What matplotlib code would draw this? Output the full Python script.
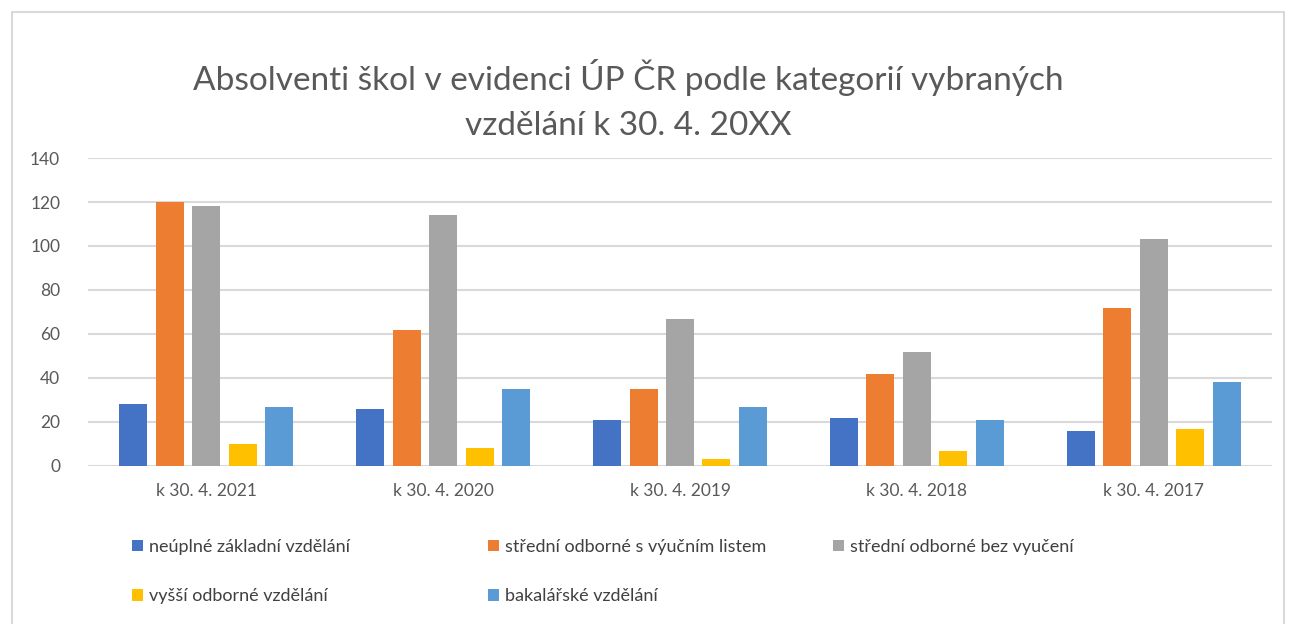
import matplotlib.pyplot as plt
import numpy as np
from matplotlib.patches import Rectangle

plt.rcParams['font.family'] = ['Lato', 'DejaVu Sans']

categories = ['k 30. 4. 2021', 'k 30. 4. 2020', 'k 30. 4. 2019', 'k 30. 4. 2018', 'k 30. 4. 2017']
series_names = ['neúplné základní vzdělání', 'střední odborné s výučním listem',
                'střední odborné bez vyučení', 'vyšší odborné vzdělání', 'bakalářské vzdělání']
neuplne = [28, 26, 21, 22, 16]
stredni_s_listem = [120, 62, 35, 42, 72]
stredni_bez = [118, 114, 67, 52, 103]
vyssi = [10, 8, 3, 7, 17]
bakalarske = [27, 35, 27, 21, 38]
colors = ['#4472C4', '#ED7D31', '#A5A5A5', '#FFC000', '#5B9BD5']

values = [neuplne, stredni_s_listem, stredni_bez, vyssi, bakalarske]

fig = plt.figure(figsize=(12.9, 6.24), dpi=100)
ax = fig.add_axes([88 / 1290, 1 - 466 / 624, (1272 - 88) / 1290, (466 - 158) / 624])

x = np.arange(len(categories))
pitch = 0.154
width = 0.118
bars = []
for i, vals in enumerate(values):
    b = ax.bar(x + (i - 2) * pitch, vals, width, color=colors[i], label=series_names[i], zorder=3)
    bars.append(b)

ax.set_xlim(-0.5, len(categories) - 0.5)
ax.set_ylim(0, 140)
ax.set_yticks(range(0, 141, 20))
ax.set_xticks(x)
ax.set_xticklabels(categories)
ax.grid(axis='y', color='#d9d9d9', linewidth=1.5, zorder=0)
for s in ax.spines.values():
    s.set_visible(False)
ax.tick_params(length=0, labelsize=12.5, labelcolor='#595959')
ax.tick_params(axis='y', pad=20)
ax.tick_params(axis='x', pad=12)

fig.text(628 / 1290, 1 - 78 / 624, 'Absolventi škol v evidenci ÚP ČR podle kategorií vybraných',
         ha='center', va='center', fontsize=24, color='#595959')
fig.text(628 / 1290, 1 - 126 / 624, 'vzdělání k 30. 4. 20XX',
         ha='center', va='center', fontsize=24, color='#595959')

# legend columns like Excel
cols = [[0, 3], [1, 4], [2]]
col_x = [132, 488, 833]
for idx, xs in zip(cols, col_x):
    leg = fig.legend([bars[i] for i in idx], [series_names[i] for i in idx],
                     loc='upper left', bbox_to_anchor=(xs / 1290, 1 - 539 / 624),
                     frameon=False, fontsize=13, handlelength=0.6, handleheight=0.6,
                     handletextpad=0.35, labelspacing=1.85, borderaxespad=0, borderpad=0)
    for t in leg.get_texts():
        t.set_color('#404040')

fig.patches.append(Rectangle((12 / 1290, -0.05), (1284 - 12) / 1290, 1.05 - 12 / 624,
                             transform=fig.transFigure, fill=False, edgecolor='#d9d9d9', linewidth=1.5))

fig.savefig('out.png', dpi=100)
